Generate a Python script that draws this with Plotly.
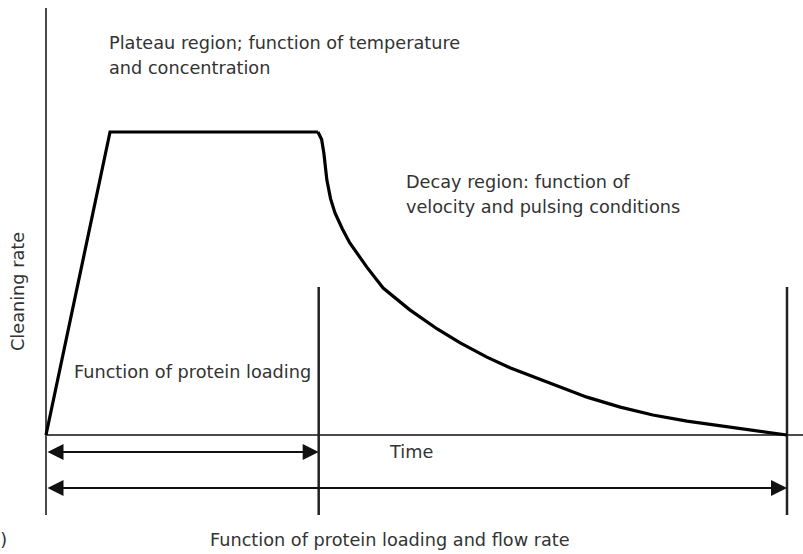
import plotly.graph_objects as go

# Cleaning-rate profile: ramp, plateau, decay (normalised time / rate units)
ramp_time = [0.0, 0.0864, 0.367]
ramp_rate = [0.0, 1.0, 1.0]
decay_time = [0.367, 0.372, 0.375, 0.379, 0.384, 0.390, 0.400, 0.410, 0.433, 0.455, 0.491,
              0.528, 0.559, 0.595, 0.626, 0.684, 0.730, 0.775, 0.819, 0.865, 0.910, 0.954, 1.0]
decay_rate = [1.0, 0.975, 0.930, 0.842, 0.780, 0.733, 0.680, 0.634, 0.554, 0.485, 0.413,
              0.350, 0.304, 0.257, 0.222, 0.168, 0.125, 0.092, 0.066, 0.046, 0.031, 0.016, 0.0]

# Phase boundaries on the time axis
t_loading_end = 0.368
t_end = 1.0

W, H = 803, 554
X0_PX, X1_PX = 46, 787      # pixel positions of t = 0 and t = 1
Y0_PX, Y1_PX = 435, 132     # pixel positions of rate = 0 and rate = 1
sx = X1_PX - X0_PX
sy = Y0_PX - Y1_PX


def tx(px):
    return (px - X0_PX) / sx


def ry(py):
    return (Y0_PX - py) / sy


x_range = [tx(0), tx(W)]
y_range = [ry(H), ry(0)]

AXIS_COL = "#4a4a4a"
TEXT_COL = "#333333"
FONT = "DejaVu Sans, Verdana, sans-serif"

fig = go.Figure()

# axis lines
fig.add_trace(go.Scatter(x=[0, 0], y=[ry(8), ry(515)], mode="lines",
                         line=dict(color=AXIS_COL, width=2), hoverinfo="skip"))
fig.add_trace(go.Scatter(x=[0, tx(803)], y=[0, 0], mode="lines",
                         line=dict(color=AXIS_COL, width=2), hoverinfo="skip"))

# phase boundary markers
for t in (t_loading_end, t_end):
    fig.add_trace(go.Scatter(x=[t, t], y=[ry(287), ry(515)], mode="lines",
                             line=dict(color="#222222", width=2.5), hoverinfo="skip"))

# cleaning-rate curve
fig.add_trace(go.Scatter(x=ramp_time, y=ramp_rate, mode="lines",
                         line=dict(color="black", width=3.2), hoverinfo="skip"))
fig.add_trace(go.Scatter(x=decay_time, y=decay_rate, mode="lines",
                         line=dict(color="black", width=3.2), hoverinfo="skip"))

annotations = []

# double-headed span arrows
for t_start, t_stop, py in ((0, t_loading_end, 452), (0, t_end, 488)):
    annotations.append(dict(
        x=t_stop, y=ry(py), ax=t_start, ay=ry(py),
        xref="x", yref="y", axref="x", ayref="y",
        text="", showarrow=True, arrowhead=2, startarrowhead=2,
        arrowside="end+start", arrowsize=1.6, startarrowsize=1.6,
        arrowwidth=2, arrowcolor="#111111", standoff=0, startstandoff=0,
    ))


def label(text, px, py, anchor="left", size=17.7, angle=0):
    annotations.append(dict(
        x=tx(px), y=ry(py), xref="x", yref="y", text=text, showarrow=False,
        xanchor=anchor, yanchor="middle", textangle=angle,
        font=dict(family=FONT, size=size, color=TEXT_COL),
    ))


label("Plateau region; function of temperature", 107, 43)
label("and concentration", 107, 68)
label("Decay region: function of", 404, 182)
label("velocity and pulsing conditions", 404, 207)
label("Function of protein loading", 72, 372)
label("Time", 411, 452, anchor="center")
label("Function of protein loading and flow rate", 390, 540, anchor="center")
label("Cleaning rate", 18, 292, anchor="center", angle=-90)
label("(b)", 9, 540, anchor="right")

fig.update_layout(
    width=W, height=H,
    margin=dict(l=0, r=0, t=0, b=0),
    paper_bgcolor="white", plot_bgcolor="white",
    showlegend=False,
    annotations=annotations,
    xaxis=dict(range=x_range, visible=False, fixedrange=True),
    yaxis=dict(range=y_range, visible=False, fixedrange=True),
)

fig.write_html("out.html")
